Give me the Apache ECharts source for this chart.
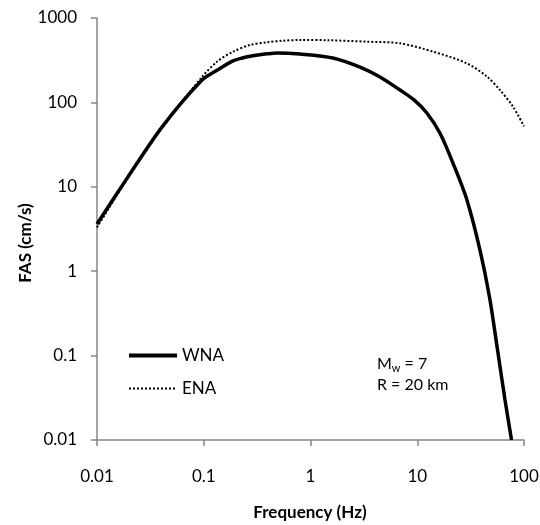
<!DOCTYPE html>
<html>
<head>
<meta charset="utf-8">
<script src="https://cdn.jsdelivr.net/npm/echarts@6/dist/echarts.min.js"></script>
<style>
html,body{margin:0;padding:0;background:#fff;}
#chart{width:540px;height:525px;}
</style>
</head>
<body>
<div id="chart"></div>
<script>
// Data
var wnaFreq = [0.01, 0.0195, 0.0406, 0.0963, 0.133, 0.188, 0.23, 0.271, 0.391, 0.486, 0.798, 1.62, 2.91, 4.48, 6.89, 9.33, 12.3, 16.3, 21.6, 29.2, 38.7, 47.5, 56.5, 66.4, 76.4];
var wnaFas  = [3.63, 13.1, 51, 184, 240, 310, 336, 352, 376, 386, 374, 336, 262, 200, 140, 107, 74.9, 43.4, 19.1, 6.98, 1.78, 0.494, 0.117, 0.0298, 0.01];
var enaFreq = [0.01, 0.0195, 0.0406, 0.0963, 0.133, 0.188, 0.271, 0.391, 0.552, 0.798, 1.5, 3.38, 6.89, 14.1, 29.2, 45, 59.6, 78.9, 100];
var enaFas  = [3.3, 12.8, 50, 200, 303, 399, 479, 515, 538, 549, 545, 524, 501, 399, 290, 202, 140, 89, 52];
var xTicks = ['0.01', '0.1', '1', '10', '100'];
var yTicks = ['0.01', '0.1', '1', '10', '100', '1000'];
var seriesNames = ['WNA', 'ENA'];

function pairs(xs, ys) { return xs.map(function (x, i) { return [x, ys[i]]; }); }
function fmt(v) { return String(Number(v.toPrecision(6))); }

var FONT = 'Lato';
var AXIS_COLOR = '#868686';

var chart = echarts.init(document.getElementById('chart'), null, {renderer: 'canvas'});
chart.setOption({
  animation: false,
  backgroundColor: '#ffffff',
  grid: {left: 97, right: 16, top: 18, bottom: 85, containLabel: false, outerBoundsMode: 'none'},
  xAxis: {
    type: 'log', logBase: 10, min: 0.01, max: 100, splitNumber: 4,
    axisLine: {show: true, lineStyle: {color: AXIS_COLOR, width: 1.5}},
    axisTick: {show: true, length: 6, inside: false, lineStyle: {color: AXIS_COLOR, width: 1.5}},
    minorTick: {show: false},
    splitLine: {show: false},
    axisLabel: {margin: 28, fontFamily: FONT, fontSize: 17, color: '#000',
      formatter: function (v) { var s = fmt(v); return xTicks.indexOf(s) >= 0 ? s : ''; }}
  },
  yAxis: {
    type: 'log', logBase: 10, min: 0.01, max: 1000, splitNumber: 5,
    axisLine: {show: true, lineStyle: {color: AXIS_COLOR, width: 1.5}},
    axisTick: {show: true, length: 6, inside: false, lineStyle: {color: AXIS_COLOR, width: 1.5}},
    splitLine: {show: false},
    axisLabel: {margin: 20, fontFamily: FONT, fontSize: 17, color: '#000',
      formatter: function (v) { var s = fmt(v); return yTicks.indexOf(s) >= 0 ? s : ''; }}
  },
  legend: {
    data: [
      {name: seriesNames[0], lineStyle: {width: 4, color: '#000'}},
      {name: seriesNames[1], lineStyle: {width: 2, color: '#000', type: [2, 2]}}
    ],
    orient: 'vertical', left: 122, top: 342,
    itemWidth: 48, itemHeight: 14, itemGap: 16,
    itemStyle: {opacity: 0},
    textStyle: {fontFamily: FONT, fontSize: 17, color: '#000'}
  },
  series: [
    {
      name: seriesNames[0], type: 'line', data: pairs(wnaFreq, wnaFas),
      symbol: 'none', smooth: 0.3, z: 3,
      lineStyle: {color: '#000', width: 3.5}, itemStyle: {color: '#000'}
    },
    {
      name: seriesNames[1], type: 'line', data: pairs(enaFreq, enaFas),
      symbol: 'none', smooth: 0.3, z: 2,
      lineStyle: {color: '#000', width: 2, type: [2, 2]}, itemStyle: {color: '#000'}
    }
  ],
  graphic: [
    {type: 'text', x: 310, y: 513, z: 10,
      style: {text: 'Frequency (Hz)', fontFamily: FONT, fontSize: 17, fontWeight: 'bold', fill: '#000', align: 'center', verticalAlign: 'middle'}},
    {type: 'text', x: 26, y: 243, rotation: Math.PI / 2, z: 10,
      style: {text: 'FAS (cm/s)', fontFamily: FONT, fontSize: 17, fontWeight: 'bold', fill: '#000', align: 'center', verticalAlign: 'middle'}},
    {type: 'text', x: 377, y: 364, z: 10,
      style: {text: '{a|M}{s|w}{a| = 7}', verticalAlign: 'middle', align: 'left',
        rich: {a: {fontFamily: FONT, fontSize: 16, fill: '#000'}, s: {fontFamily: FONT, fontSize: 11, fill: '#000', verticalAlign: 'bottom', padding: [8, 0, 0, 0]}}}},
    {type: 'text', x: 377, y: 385, z: 10,
      style: {text: 'R = 20 km', fontFamily: FONT, fontSize: 16, fill: '#000', align: 'left', verticalAlign: 'middle'}}
  ]
});
</script>
</body>
</html>
